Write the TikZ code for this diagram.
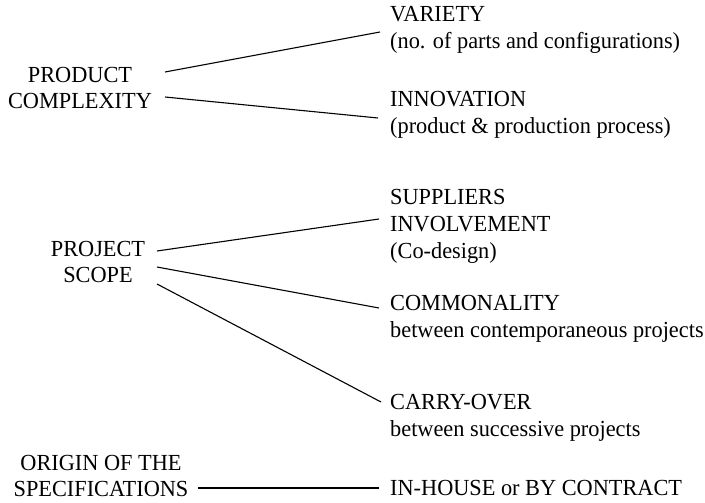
\documentclass[tikz,border=0pt]{standalone}
\usepackage{fontspec}
\setmainfont{Liberation Serif}[FakeStretch=0.97]

\begin{document}
\begin{tikzpicture}[x=1pt,y=-1pt,
    every node/.style={inner sep=0pt,font=\fontsize{23}{26}\selectfont},
    factor/.style={align=center},
    item/.style={align=left,anchor=west,font=\fontsize{23}{27}\selectfont},
    link/.style={line width=1.1pt},
  ]
  \useasboundingbox (0,0) rectangle (705,503);
  \node[factor] (complexity) at (80,88) {PRODUCT\\COMPLEXITY};
  \node[factor] (scope) at (98,262) {PROJECT\\SCOPE};
  \node[factor] (origin) at (101,476) {ORIGIN OF THE\\SPECIFICATIONS};
  \node[item] (variety) at (390,30) {VARIETY\\(no. of parts and configurations)};
  \node[item] (innovation) at (390,115) {INNOVATION\\(product \& production process)};
  \node[item] (suppliers) at (390,226) {SUPPLIERS\\INVOLVEMENT\\(Co-design)};
  \node[item] (commonality) at (390,319) {COMMONALITY\\between contemporaneous projects};
  \node[item] (carryover) at (390,418) {CARRY-OVER\\between successive projects};
  \node[item] (inhouse) at (390,488) {IN-HOUSE or BY CONTRACT};
  \draw[link] ([shift={(85,-16)}]complexity.center) -- ([shift={(-10,2)}]variety.west);
  \draw[link] ([shift={(85,9)}]complexity.center) -- ([shift={(-12,3)}]innovation.west);
  \draw[link] ([shift={(59,-11)}]scope.center) -- ([shift={(-11,-7)}]suppliers.west);
  \draw[link] ([shift={(59,5)}]scope.center) -- ([shift={(-11,-11)}]commonality.west);
  \draw[link] ([shift={(59,22)}]scope.center) -- ([shift={(-9,-16)}]carryover.west);
  \draw[link] ([shift={(97,12)}]origin.center) -- ([shift={(-11,0)}]inhouse.west);
\end{tikzpicture}
\end{document}
